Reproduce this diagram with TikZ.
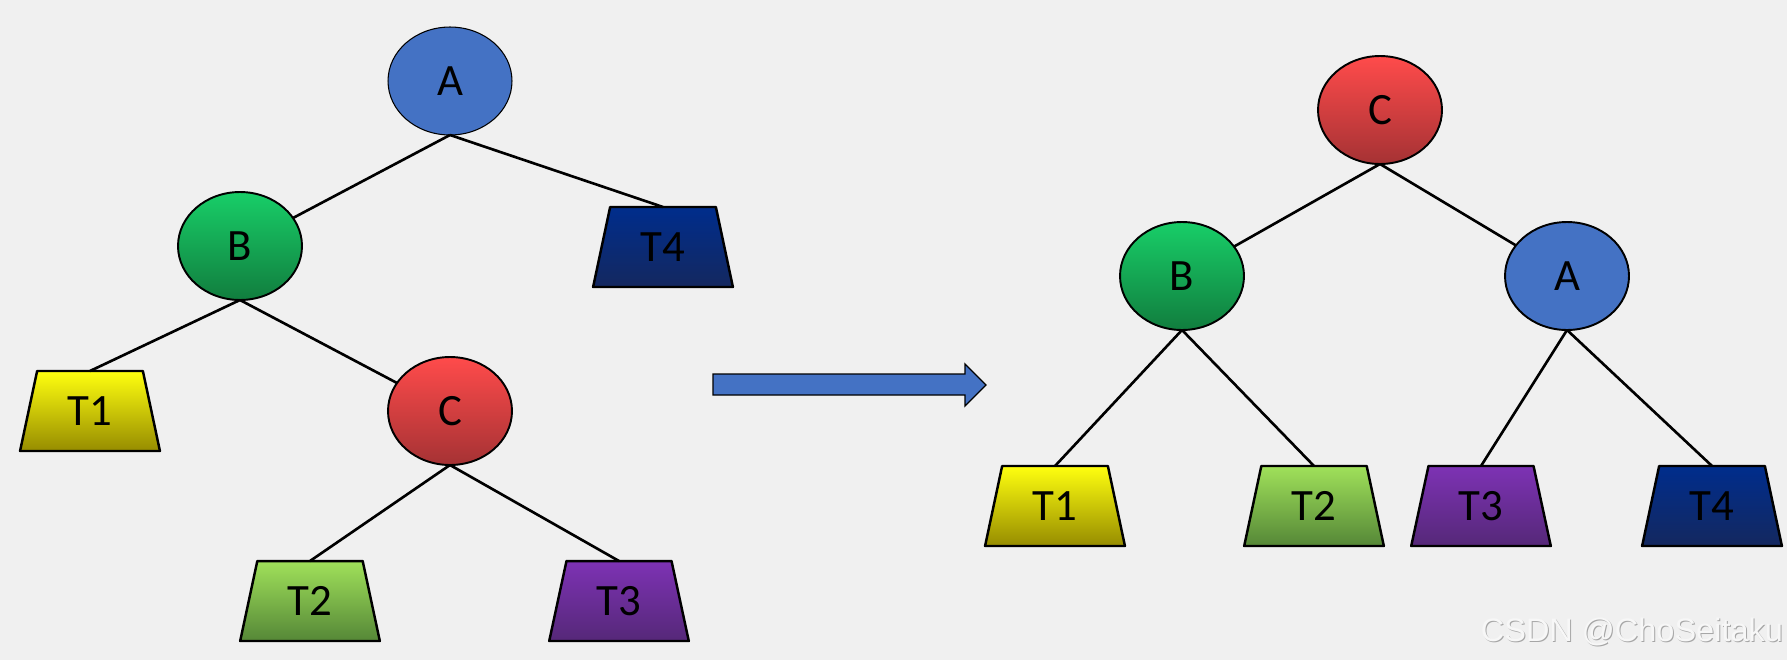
\documentclass[tikz,border=0pt]{standalone}
\usepackage{fontspec}
\setmainfont{Carlito}
\newfontfamily\markfont{Liberation Sans}
\usetikzlibrary{shapes.geometric}

\definecolor{paper}{RGB}{240,240,240}
\definecolor{ablue}{RGB}{68,114,196}
\definecolor{gtop}{RGB}{24,206,104}
\definecolor{gbot}{RGB}{17,125,62}
\definecolor{rtop}{RGB}{255,75,75}
\definecolor{rbot}{RGB}{165,50,52}
\definecolor{ytop}{RGB}{255,255,15}
\definecolor{ybot}{RGB}{150,140,0}
\definecolor{ltop}{RGB}{160,225,90}
\definecolor{lbot}{RGB}{85,135,55}
\definecolor{ptop}{RGB}{125,50,180}
\definecolor{pbot}{RGB}{85,40,120}
\definecolor{ntop}{RGB}{0,45,140}
\definecolor{nbot}{RGB}{20,40,95}

\begin{document}
\begin{tikzpicture}[x=0.02cm, y=-0.02cm,
    every node/.style={font=\fontsize{25.5}{30}\selectfont, inner sep=0pt, outer sep=0pt},
    oval/.style={ellipse, draw, line width=1.1pt, minimum width=2.48cm, minimum height=2.16cm},
    leaf/.style={trapezium, trapezium angle=76, trapezium stretches=true, draw, line width=1.4pt,
        line join=round, minimum width=2.8cm, minimum height=1.6cm},
    link/.style={line width=1.5pt}]
            \fill[paper] (0, 0) rectangle (1787, 660);

            % before
            \node[oval, fill=ablue, line width=0.6pt] (a) at (450, 81) {A};
            \node[oval, top color=gtop, bottom color=gbot] (b) at (240, 246) {B};
            \node[oval, top color=rtop, bottom color=rbot] (c) at (450, 411) {C};
            \node[leaf, top color=ytop, bottom color=ybot] (t1) at (90, 411) {T1};
            \node[leaf, top color=ltop, bottom color=lbot] (t2) at (310, 601) {T2};
            \node[leaf, top color=ptop, bottom color=pbot] (t3) at (619, 601) {T3};
            \node[leaf, top color=ntop, bottom color=nbot] (t4) at (663, 247) {T4};

            \draw[link] (a.south) -- (b);
            \draw[link] (a.south) -- (t4.north);
            \draw[link] (b.south) -- (t1.north);
            \draw[link] (b.south) -- (c);
            \draw[link] (c.south) -- (t2.north);
            \draw[link] (c.south) -- (t3.north);

            % the turn
            \draw[fill=ablue, line width=0.75pt, line join=miter]
                (713, 374) -- (965, 374) -- (965, 364) -- (986, 385) -- (965, 406)
                -- (965, 395) -- (713, 395) -- cycle;

            % after
            \node[oval, top color=rtop, bottom color=rbot] (rc) at (1380, 110) {C};
            \node[oval, top color=gtop, bottom color=gbot] (rb) at (1182, 276) {B};
            \node[oval, fill=ablue] (ra) at (1567, 276) {A};
            \node[leaf, top color=ytop, bottom color=ybot] (rt1) at (1055, 506) {T1};
            \node[leaf, top color=ltop, bottom color=lbot] (rt2) at (1314, 506) {T2};
            \node[leaf, top color=ptop, bottom color=pbot] (rt3) at (1481, 506) {T3};
            \node[leaf, top color=ntop, bottom color=nbot] (rt4) at (1712, 506) {T4};

            \draw[link] (rc.south) -- (rb);
            \draw[link] (rc.south) -- (ra);
            \draw[link] (rb.south) -- (rt1.north);
            \draw[link] (rb.south) -- (rt2.north);
            \draw[link] (ra.south) -- (rt3.north);
            \draw[link] (ra.south) -- (rt4.north);

            \node[font=\markfont\fontsize{18.5}{22}\selectfont, text=black!35, anchor=base east]
                (markshadow) at (1784, 642) {CSDN @ChoSeitaku};
            \node[font=\markfont\fontsize{18.5}{22}\selectfont, text=white!97!black, anchor=base east]
                (mark) at (1783, 641) {CSDN @ChoSeitaku};
\end{tikzpicture}
\end{document}
